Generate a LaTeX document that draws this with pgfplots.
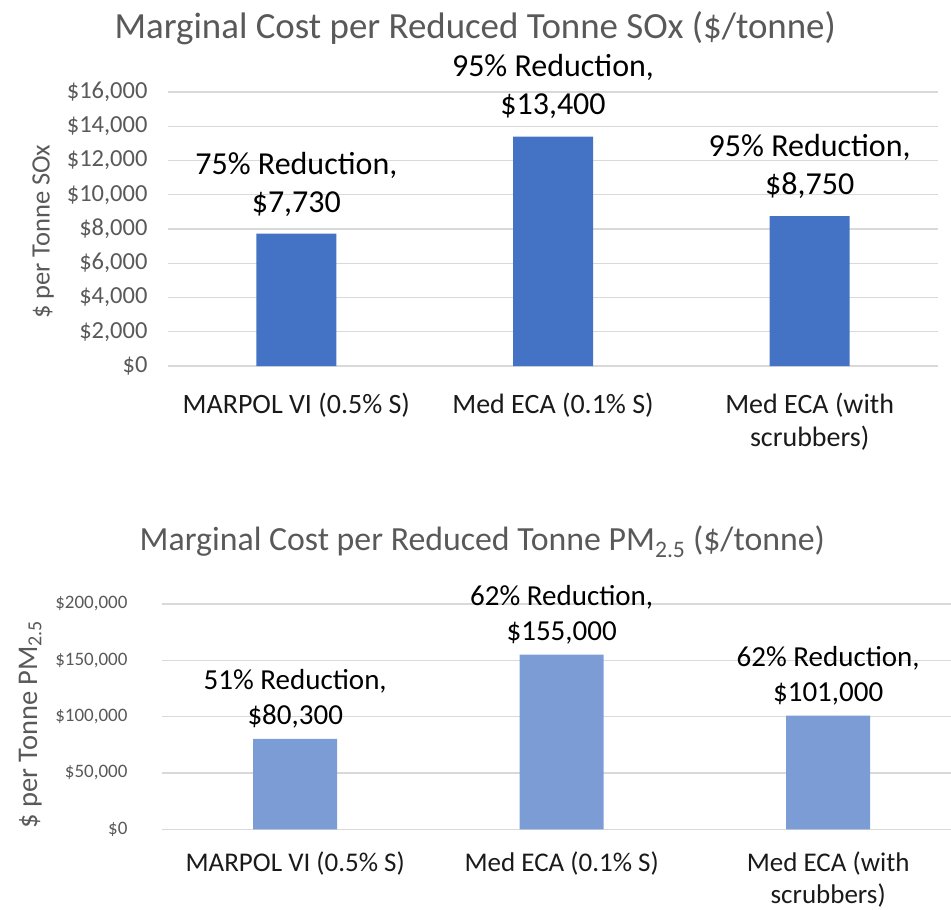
\documentclass[border=0pt]{standalone}
\usepackage{fontspec}
\setmainfont{Carlito}
\usepackage{pgfplots}
\pgfplotsset{compat=1.18}
\definecolor{barA}{HTML}{4472C4}
\definecolor{barB}{HTML}{7B9CD5}
\definecolor{txt}{HTML}{595959}
\definecolor{gridc}{HTML}{D9D9D9}
\definecolor{lab}{HTML}{1A1A1A}

\pgfplotsset{
  excelbar/.style={
    scale only axis,
    ybar,
    clip=false,
    axis line style={draw=none},
    major tick length=0pt,
    xtick={0,1,2},
    xticklabels={MARPOL VI (0.5\% S), Med ECA (0.1\% S), {Med ECA (with\\scrubbers)}},
    xticklabel style={align=center, text=lab},
    ymajorgrids,
    grid style={draw=gridc, line width=1.2pt},
    scaled y ticks=false,
    yticklabel={\$\pgfmathprintnumber{\tick}},
    /pgf/number format/.cd, fixed, precision=0, 1000 sep={,}, assume math mode=true,
    /pgfplots/.cd,
    yticklabel style={text=txt},
    ylabel style={text=txt, anchor=center},
    title style={text=txt, anchor=center},
    point meta=explicit symbolic,
    nodes near coords,
    nodes near coords style={align=center, text=black, anchor=south},
  }
}

\begin{document}
\begin{tikzpicture}
\useasboundingbox (0pt,0pt) rectangle (951pt,-910pt);
\begin{axis}[excelbar,
  at={(168pt,-366pt)}, anchor=south west,
  width=770pt, height=274pt,
  xmin=-0.5, xmax=2.5, ymin=0, ymax=16000,
  ytick={0,2000,...,16000},
  bar width=80pt,
  xticklabel style={font=\fontsize{28}{33}\selectfont, yshift=-23pt},
  yticklabel style={font=\fontsize{24.5}{28}\selectfont, xshift=-17pt},
  nodes near coords style={font=\fontsize{32}{38}\selectfont, yshift=14pt},
  ylabel={\$ per Tonne SOx},
  ylabel style={font=\fontsize{26.5}{31}\selectfont, at={(axis description cs:-0.162,0.49)}},
  title={Marginal Cost per Reduced Tonne SOx (\$/tonne)},
  title style={font=\fontsize{36.9}{42}\selectfont, at={(axis description cs:0.399,1.21)}},
]
\addplot[fill=barA, draw=none] coordinates {
  (0,7730) [75\% Reduction,\\\$7,730]
  (1,13400) [95\% Reduction,\\\$13,400]
  (2,8750) [95\% Reduction,\\\$8,750]
};
\end{axis}
\begin{axis}[excelbar,
  at={(162pt,-829.3pt)}, anchor=south west,
  width=789pt, height=225.3pt,
  xmin=-0.5, xmax=2.461, ymin=0, ymax=200000,
  ytick={0,50000,...,200000},
  bar width=84pt,
  xticklabel style={font=\fontsize{27}{32}\selectfont, yshift=-19pt},
  yticklabel style={font=\fontsize{19}{23}\selectfont, xshift=-31pt},
  nodes near coords style={font=\fontsize{29}{35}\selectfont, yshift=7pt},
  ylabel={\$ per Tonne PM\textsubscript{2.5}},
  ylabel style={font=\fontsize{28.5}{33}\selectfont, at={(axis description cs:-0.167,0.465)}},
  title={Marginal Cost per Reduced Tonne PM\textsubscript{2.5} (\$/tonne)},
  title style={font=\fontsize{33.8}{40}\selectfont, at={(axis description cs:0.406,1.25)}},
]
\addplot[fill=barB, draw=none] coordinates {
  (0,80300) [51\% Reduction,\\\$80,300]
  (1,155000) [62\% Reduction,\\\$155,000]
  (2,101000) [62\% Reduction,\\\$101,000]
};
\end{axis}
\end{tikzpicture}
\end{document}
